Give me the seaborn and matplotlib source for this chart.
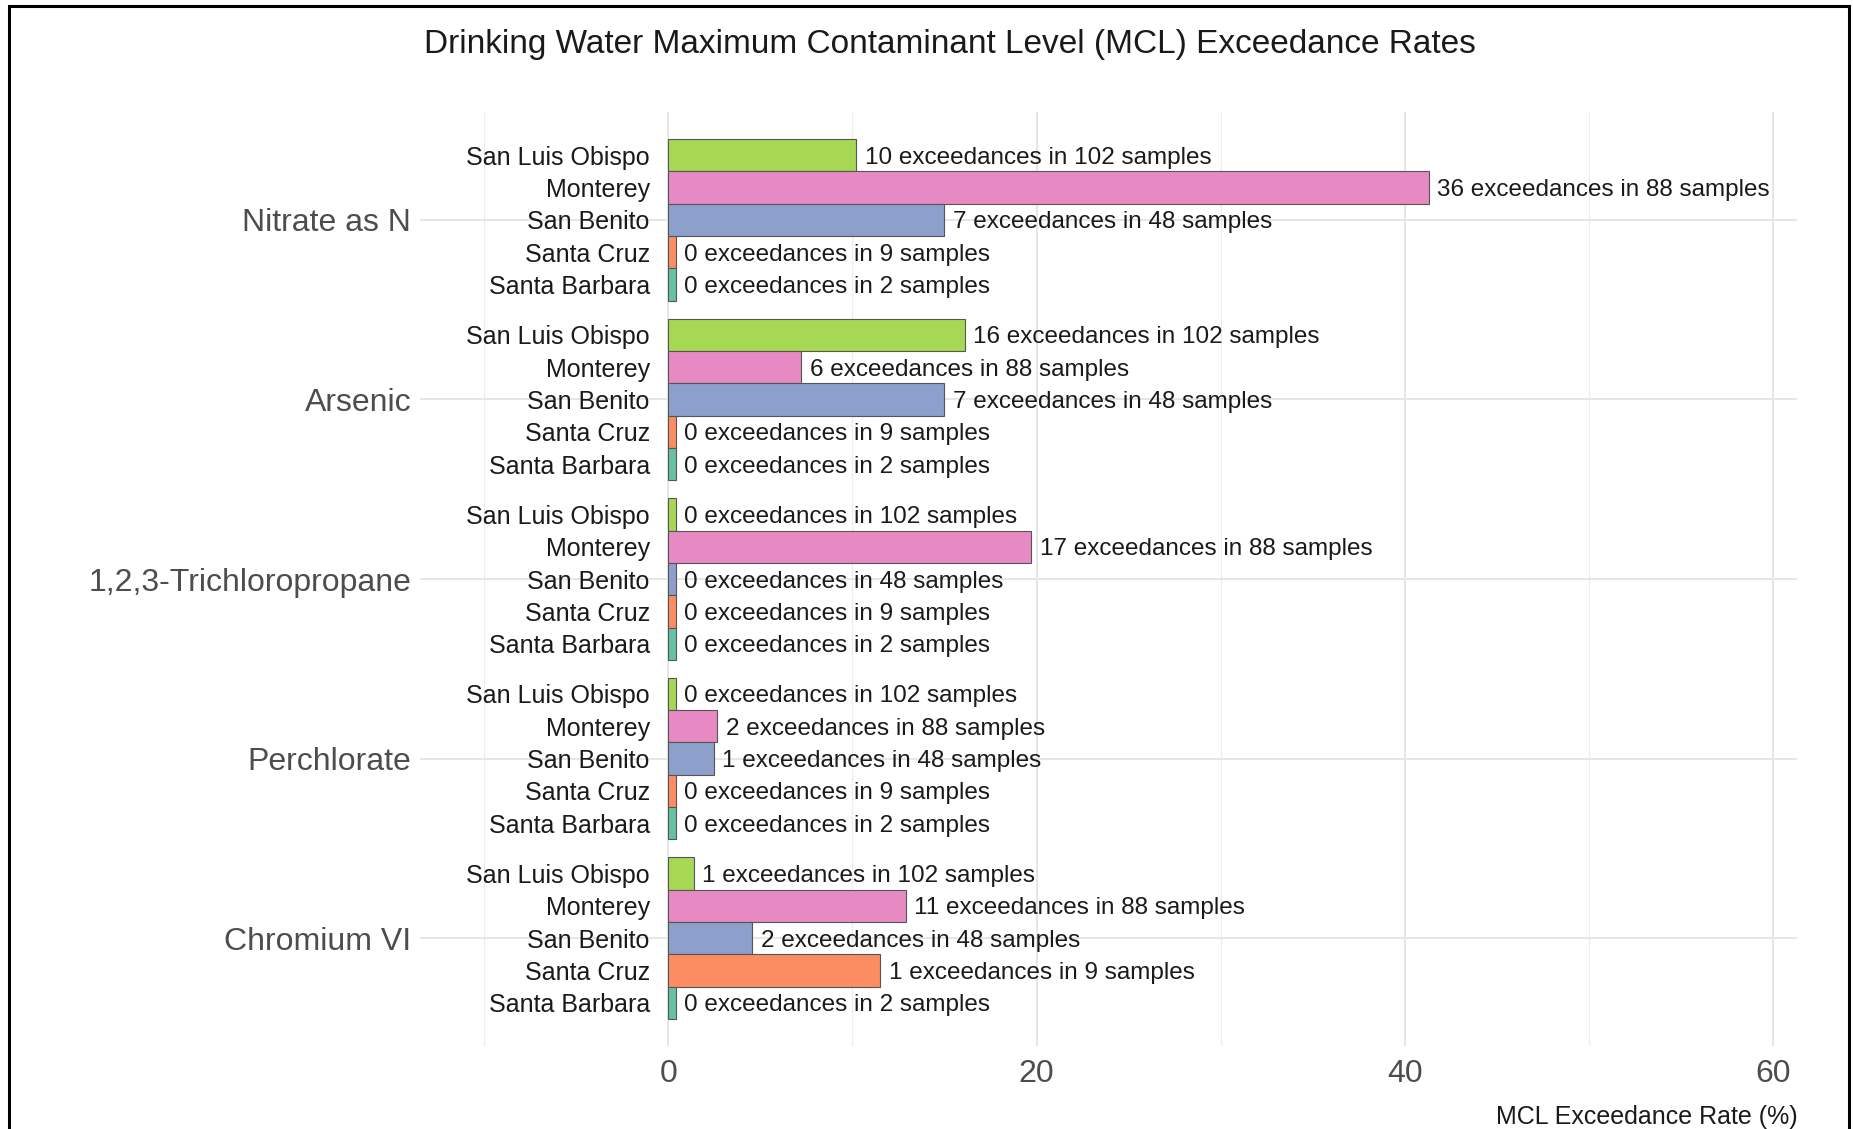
import pandas as pd
import numpy as np
import matplotlib.pyplot as plt
import seaborn as sns
from matplotlib.patches import Rectangle

# Data
contaminants = ["Nitrate as N", "Arsenic", "1,2,3-Trichloropropane", "Perchlorate", "Chromium VI"]
counties = ["San Luis Obispo", "Monterey", "San Benito", "Santa Cruz", "Santa Barbara"]
samples = [102, 88, 48, 9, 2]

# exceedances per county (same county order as above)
nitrate = [10, 36, 7, 0, 0]
arsenic = [16, 6, 7, 0, 0]
tcp = [0, 17, 0, 0, 0]
perchlorate = [0, 2, 1, 0, 0]
chromium = [1, 11, 2, 1, 0]

x_major = [0, 20, 40, 60]
x_minor = [-10, 10, 30, 50]

rows = []
for name, exc in zip(contaminants, [nitrate, arsenic, tcp, perchlorate, chromium]):
    for county, e, n in zip(counties, exc, samples):
        rows.append({
            "contaminant": name,
            "county": county,
            "rate": 100 * e / n,
            "label": f"{e} exceedances in {n} samples",
        })
df = pd.DataFrame(rows)
# small stub so that zero rates still show as a sliver, like the original
df["bar"] = df["rate"] + 0.4

sns.set_style("white")
plt.rcParams["font.family"] = ["Liberation Sans", "DejaVu Sans"]

palette = sns.color_palette("Set2", 5)[::-1]

fig = plt.figure(figsize=(18.53, 11.29), dpi=100)
ax = fig.add_axes([0.2264, 0.0735, 0.7436, 0.8273])

sns.barplot(data=df, y="contaminant", x="bar", hue="county",
            order=contaminants, hue_order=counties, palette=palette,
            saturation=1, orient="h", width=0.9, errorbar=None, legend=False,
            edgecolor="#555555", linewidth=0.8, ax=ax)

# labels next to bars and county names left of zero
for container, county in zip(ax.containers, counties):
    labels = df[df["county"] == county].set_index("contaminant").loc[contaminants, "label"]
    for bar, lab in zip(container, labels):
        y = bar.get_y() + bar.get_height() / 2
        ax.annotate(lab, (bar.get_width(), y), xytext=(6, 0),
                    textcoords="offset points", ha="left", va="center_baseline",
                    fontsize=17.5, color="#1a1a1a")
        ax.text(-1.0, y, county, ha="right", va="center_baseline",
                fontsize=18, color="#1a1a1a")

ax.set_xlim(-13.5, 61.3)
ax.set_ylim(4.6, -0.6)
ax.set_xticks(x_major)
ax.set_xticks(x_minor, minor=True)

ax.set_axisbelow(True)
ax.grid(axis="x", which="major", color="#e6e6e6", linewidth=1.4)
ax.grid(axis="x", which="minor", color="#ececec", linewidth=0.9)
ax.grid(axis="y", which="major", color="#e6e6e6", linewidth=1.4)

ax.tick_params(axis="both", which="both", length=0)
ax.tick_params(axis="x", pad=9, labelsize=23, labelcolor="#4d4d4d")
ax.tick_params(axis="y", pad=6, labelsize=23, labelcolor="#4d4d4d")

for s in ax.spines.values():
    s.set_visible(False)

ax.set_ylabel("")
ax.set_xlabel("MCL Exceedance Rate (%)", loc="right", fontsize=18,
              labelpad=12, color="#1a1a1a")

fig.text(0.5127, 0.9606,
         "Drinking Water Maximum Contaminant Level (MCL) Exceedance Rates",
         ha="center", va="center", fontsize=24, color="#1a1a1a")

# frame around the screenshot (bottom edge falls outside the image)
fig.add_artist(Rectangle((9 / 1853, -0.1), (1849 - 9) / 1853, 1.1 - 6 / 1129,
                         transform=fig.transFigure, fill=False,
                         edgecolor="black", linewidth=2.2, clip_on=False))

plt.savefig("out.png", dpi=100)
